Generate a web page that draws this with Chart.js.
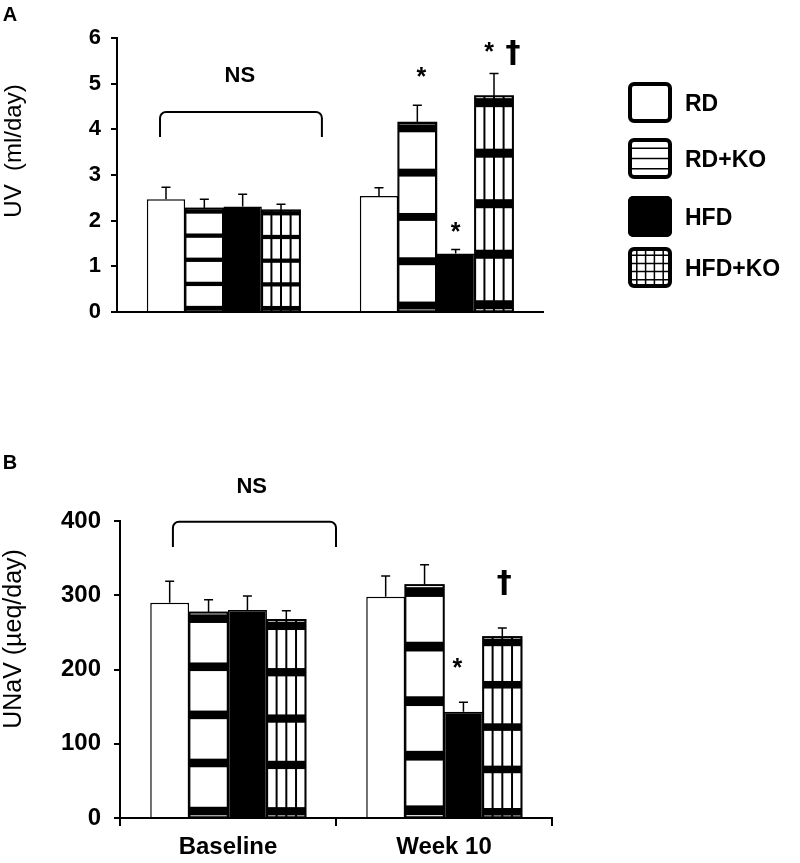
<!DOCTYPE html>
<html>
<head>
<meta charset="utf-8">
<script src="https://cdn.jsdelivr.net/npm/chart.js@4.4.1/dist/chart.umd.min.js"></script>
<style>
  html, body { margin: 0; padding: 0; background: #fff; }
  #wrap { position: relative; width: 800px; height: 863px; }
  #uvChart { position: absolute; left: 0; top: 0; }
  #unavChart { position: absolute; left: 0; top: 430px; }
</style>
</head>
<body>
<div id="wrap">
  <canvas id="uvChart" width="800" height="430"></canvas>
  <canvas id="unavChart" width="800" height="433"></canvas>
</div>
<script>
const categories = ['Baseline', 'Week 10'];
const groups = ['RD', 'RD+KO', 'HFD', 'HFD+KO'];

// Panel A - urine volume (ml/day), mean and SEM
const uvRD = [2.47, 2.54];
const uvRDKO = [2.27, 4.15];
const uvHFD = [2.31, 1.28];
const uvHFDKO = [2.23, 4.73];
const uvRDsem = [0.26, 0.18];
const uvRDKOsem = [0.20, 0.38];
const uvHFDsem = [0.27, 0.09];
const uvHFDKOsem = [0.13, 0.49];
const uvTicks = [0, 1, 2, 3, 4, 5, 6];

// Panel B - urinary sodium excretion (µeq/day), mean and SEM
const naRD = [290, 298];
const naRDKO = [277, 314];
const naHFD = [280, 143];
const naHFDKO = [267, 244];
const naRDsem = [29, 28];
const naRDKOsem = [17, 27];
const naHFDsem = [19, 13];
const naHFDKOsem = [12, 12];
const naTicks = [0, 100, 200, 300, 400];

const FONT = '"Liberation Sans", Arial, sans-serif';
const DAGGER_FONT = '"DejaVu Sans", "Liberation Sans", sans-serif';

// fill style for each group: white, white+bands, black, white+bands+columns
const groupFill = ['#ffffff', '#ffffff', '#000000', '#ffffff'];
const groupPattern = [null, 'bands', null, 'grid'];

function makeDatasets(values, sems) {
  return groups.map((g, i) => ({
    label: g,
    data: values[i],
    sem: sems[i],
    fillPattern: groupPattern[i],
    backgroundColor: groupFill[i],
    borderColor: '#000',
    borderWidth: 1.5,
    barPercentage: 1.0,
    categoryPercentage: 0.72
  }));
}

// stretched band pattern, fractions of bar height
const bandStarts = [0.01, 0.245, 0.48, 0.715, 0.95];
const bandSize = 0.042;

function barBox(el) {
  const p = el.getProps(['x', 'y', 'base', 'width'], true);
  return {
    x: p.x,
    left: p.x - p.width / 2,
    w: p.width,
    top: Math.min(p.y, p.base),
    h: Math.abs(p.base - p.y)
  };
}

// patterns inside the bars + upward error bars
const barDecor = {
  id: 'barDecor',
  afterDatasetsDraw(chart) {
    const ctx = chart.ctx;
    const yScale = chart.scales.y;
    ctx.save();
    chart.data.datasets.forEach((ds, di) => {
      const meta = chart.getDatasetMeta(di);
      meta.data.forEach((el, i) => {
        const b = barBox(el);
        if (ds.fillPattern === 'grid') {
          ctx.strokeStyle = '#000';
          ctx.lineWidth = 2;
          for (let k = 1; k < 4; k++) {
            const x = b.left + b.w * k / 4;
            ctx.beginPath();
            ctx.moveTo(x, b.top);
            ctx.lineTo(x, b.top + b.h);
            ctx.stroke();
          }
        }
        if (ds.fillPattern) {
          ctx.fillStyle = '#000';
          bandStarts.forEach(s => ctx.fillRect(b.left, b.top + s * b.h, b.w, bandSize * b.h));
          ctx.strokeStyle = '#000';
          ctx.lineWidth = 1.5;
          ctx.strokeRect(b.left, b.top, b.w, b.h);
        }
        // error bar (upper half only)
        const yTop = yScale.getPixelForValue(ds.data[i] + ds.sem[i]);
        ctx.strokeStyle = '#000';
        ctx.lineWidth = 1.5;
        ctx.beginPath();
        ctx.moveTo(b.x, b.top);
        ctx.lineTo(b.x, yTop);
        ctx.moveTo(b.x - 4.5, yTop);
        ctx.lineTo(b.x + 4.5, yTop);
        ctx.stroke();
      });
    });
    ctx.restore();
  }
};

function drawCentered(ctx, text, x, yc, font) {
  ctx.font = font;
  ctx.textAlign = 'center';
  ctx.textBaseline = 'alphabetic';
  const m = ctx.measureText(text);
  ctx.fillText(text, x, yc + (m.actualBoundingBoxAscent - m.actualBoundingBoxDescent) / 2);
}

// NS bracket, significance marks, panel letter and y title
const notes = {
  id: 'notes',
  afterDraw(chart, args, opts) {
    const ctx = chart.ctx;
    const xs = chart.scales.x;
    const ys = chart.scales.y;
    ctx.save();
    ctx.fillStyle = '#000';
    ctx.strokeStyle = '#000';

    // bracket
    const br = opts.bracket;
    const x1 = xs.getPixelForValue(br.from);
    const x2 = xs.getPixelForValue(br.to);
    const yT = ys.getPixelForValue(br.top);
    const yE = ys.getPixelForValue(br.end);
    const r = 6;
    ctx.lineWidth = 2;
    ctx.beginPath();
    ctx.moveTo(x1, yE);
    ctx.arcTo(x1, yT, x1 + r, yT, r);
    ctx.arcTo(x2, yT, x2, yE, r);
    ctx.lineTo(x2, yE);
    ctx.stroke();
    drawCentered(ctx, 'NS', xs.getPixelForValue(br.labelAt), ys.getPixelForValue(br.labelY), 'bold 22px ' + FONT);

    // significance marks above bars
    opts.marks.forEach(m => {
      const el = chart.getDatasetMeta(m.ds).data[m.cat];
      const x = el.getProps(['x'], true).x + m.dx;
      const family = m.text === '†' ? DAGGER_FONT : FONT;
      drawCentered(ctx, m.text, x, ys.getPixelForValue(m.y), 'bold ' + m.size + 'px ' + family);
    });

    // panel letter
    drawCentered(ctx, opts.letter, opts.letterX, opts.letterY, 'bold 20px ' + FONT);

    // y axis title
    ctx.translate(opts.titleX, opts.titleY);
    ctx.rotate(-Math.PI / 2);
    ctx.font = opts.titleSize + 'px ' + FONT;
    ctx.textAlign = 'center';
    ctx.textBaseline = 'middle';
    ctx.fillText(opts.title, 0, 0);
    ctx.restore();
  }
};

// legend with patterned boxes (top panel only)
const boxLegend = {
  id: 'boxLegend',
  afterDraw(chart) {
    const ctx = chart.ctx;
    const tops = [82, 138, 196, 247];
    const bx = 628, bw = 44, bh = 41;
    ctx.save();
    chart.data.datasets.forEach((ds, i) => {
      const y = tops[i];
      ctx.beginPath();
      ctx.roundRect(bx, y, bw, bh, 5);
      ctx.fillStyle = ds.backgroundColor;
      ctx.fill();
      ctx.strokeStyle = '#000';
      if (ds.fillPattern) {
        ctx.lineWidth = 1.5;
        ctx.beginPath();
        const n = ds.fillPattern === 'grid' ? 5 : 4;
        for (let k = 1; k < n; k++) {
          const yy = y + bh * k / n;
          ctx.moveTo(bx, yy);
          ctx.lineTo(bx + bw, yy);
          if (ds.fillPattern === 'grid') {
            const xx = bx + bw * k / n;
            ctx.moveTo(xx, y);
            ctx.lineTo(xx, y + bh);
          }
        }
        ctx.stroke();
      }
      ctx.beginPath();
      ctx.roundRect(bx + 2, y + 2, bw - 4, bh - 4, 4);
      ctx.lineWidth = 4;
      ctx.stroke();
      ctx.fillStyle = '#000';
      ctx.font = 'bold 23px ' + FONT;
      ctx.textAlign = 'left';
      const m = ctx.measureText(ds.label);
      ctx.fillText(ds.label, 685, y + bh / 2 + (m.actualBoundingBoxAscent - m.actualBoundingBoxDescent) / 2);
    });
    ctx.restore();
  }
};

// Panel A
new Chart(document.getElementById('uvChart'), {
  type: 'bar',
  data: {
    labels: categories,
    datasets: makeDatasets([uvRD, uvRDKO, uvHFD, uvHFDKO], [uvRDsem, uvRDKOsem, uvHFDsem, uvHFDKOsem])
  },
  plugins: [barDecor, notes, boxLegend],
  options: {
    responsive: false,
    animation: false,
    devicePixelRatio: 1,
    layout: { padding: { top: 38, right: 257, left: 0, bottom: 0 } },
    plugins: {
      legend: { display: false },
      tooltip: { enabled: false },
      notes: {
        bracket: { from: -0.298, to: 0.462, top: 4.38, end: 3.83, labelAt: 0.077, labelY: 5.19 },
        marks: [
          { text: '*', cat: 1, ds: 1, y: 5.26, dx: 4, size: 25 },
          { text: '*', cat: 1, ds: 2, y: 1.86, dx: 0, size: 25 },
          { text: '*', cat: 1, ds: 3, y: 5.80, dx: -5, size: 25 },
          { text: '†', cat: 1, ds: 3, y: 5.67, dx: 19, size: 30 }
        ],
        letter: 'A', letterX: 10, letterY: 14,
        title: 'UV  (ml/day)', titleX: 14, titleY: 151, titleSize: 24
      }
    },
    scales: {
      x: {
        grid: { display: false },
        border: { display: true, color: '#000', width: 2 },
        ticks: { display: false },
        afterFit: s => { s.height = 118; }
      },
      y: {
        min: 0,
        max: 6,
        afterBuildTicks: s => { s.ticks = uvTicks.map(v => ({ value: v })); },
        ticks: { color: '#000', font: { family: FONT, size: 22, weight: 'bold' }, padding: 10 },
        grid: { drawOnChartArea: false, drawTicks: true, tickLength: 6, color: '#000', lineWidth: 2 },
        border: { color: '#000', width: 2 },
        afterFit: s => { s.width = 117; }
      }
    }
  }
});

// Panel B
new Chart(document.getElementById('unavChart'), {
  type: 'bar',
  data: {
    labels: categories,
    datasets: makeDatasets([naRD, naRDKO, naHFD, naHFDKO], [naRDsem, naRDKOsem, naHFDsem, naHFDKOsem])
  },
  plugins: [barDecor, notes],
  options: {
    responsive: false,
    animation: false,
    devicePixelRatio: 1,
    layout: { padding: { top: 91, right: 248, left: 0, bottom: 0 } },
    plugins: {
      legend: { display: false },
      tooltip: { enabled: false },
      notes: {
        bracket: { from: -0.255, to: 0.5, top: 399, end: 365, labelAt: 0.11, labelY: 448 },
        marks: [
          { text: '*', cat: 1, ds: 2, y: 209, dx: -6, size: 25 },
          { text: '†', cat: 1, ds: 3, y: 316, dx: 2, size: 30 }
        ],
        letter: 'B', letterX: 10, letterY: 32,
        title: 'UNaV (µeq/day)', titleX: 14, titleY: 209, titleSize: 25
      }
    },
    scales: {
      x: {
        grid: { display: true, drawOnChartArea: false, drawTicks: true, tickLength: 8, color: '#000', lineWidth: 2, offset: true },
        border: { display: true, color: '#000', width: 2 },
        ticks: { color: '#000', font: { family: FONT, size: 24, weight: 'bold' }, padding: 7 },
        afterFit: s => { s.height = 45; }
      },
      y: {
        min: 0,
        max: 400,
        afterBuildTicks: s => { s.ticks = naTicks.map(v => ({ value: v })); },
        ticks: { color: '#000', font: { family: FONT, size: 24, weight: 'bold' }, padding: 13 },
        grid: { drawOnChartArea: false, drawTicks: true, tickLength: 6, color: '#000', lineWidth: 2 },
        border: { color: '#000', width: 2 },
        afterFit: s => { s.width = 120; }
      }
    }
  }
});
</script>
</body>
</html>
